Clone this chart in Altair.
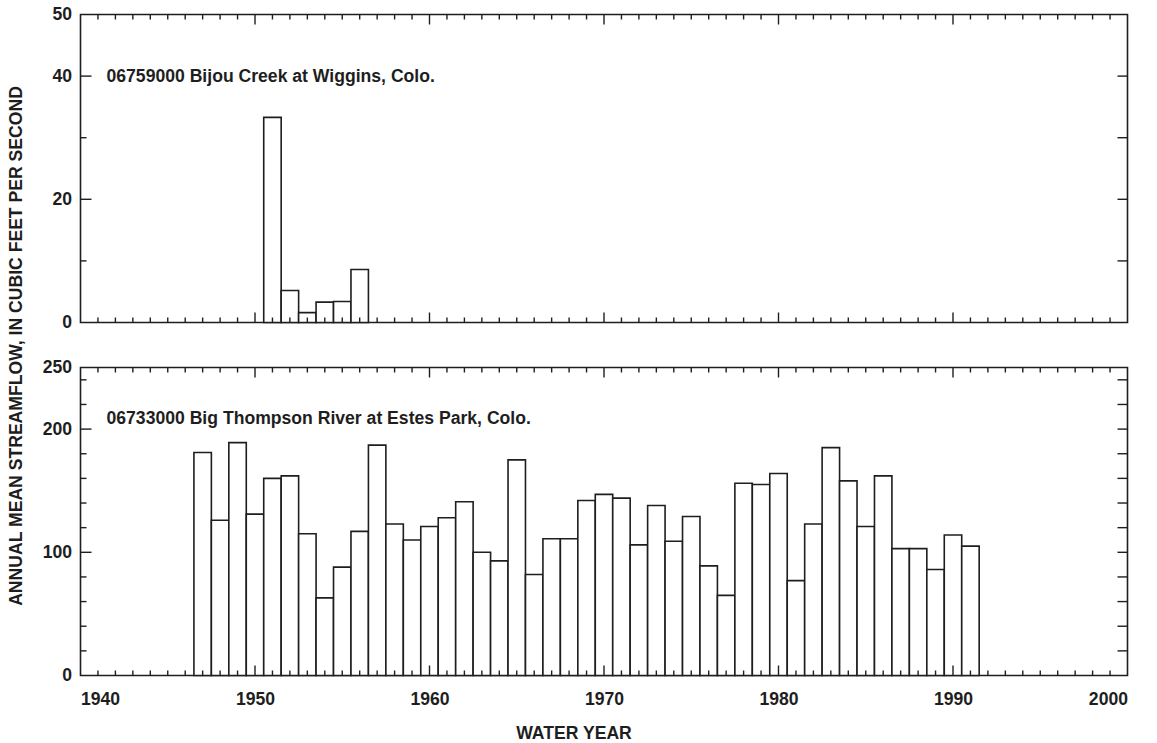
import altair as alt
import pandas as pd

# ---- data ----
bijou_years = [1951, 1952, 1953, 1954, 1955, 1956]
bijou_flow = [33.3, 5.2, 1.6, 3.3, 3.4, 8.6]

thompson_years = list(range(1947, 1992))
thompson_flow = [181, 126, 189, 131, 160, 162, 115, 63, 88, 117,
                 187, 123, 110, 121, 128, 141, 100, 93, 175, 82,
                 111, 111, 142, 147, 144, 106, 138, 109, 129, 89,
                 65, 156, 155, 164, 77, 123, 185, 158, 121, 162,
                 103, 103, 86, 114, 105]

x_labels = [1940, 1950, 1960, 1970, 1980, 1990, 2000]
x_minor = [y for y in range(1941, 2000) if y % 10 != 0]
x_major = [1950, 1960, 1970, 1980, 1990]

top_labels = [0, 20, 40, 50]
top_major = [20, 40]
top_minor = [10, 30]
top_right = [10, 20, 30, 40]

bot_labels = [0, 100, 200, 250]
bot_major = [100, 200]
bot_minor = [20, 40, 60, 80, 120, 140, 160, 180, 220, 240]
bot_right = [20, 40, 60, 80, 100, 120, 140, 160, 180, 200, 220, 240]

top_text = ["06759000 Bijou Creek at Wiggins, Colo."]
bot_text = ["06733000 Big Thompson River at Estes Park, Colo."]

W, H = 1047, 308
FONT = "Liberation Sans"
INK = "#1e1e1e"
FS = 17.6

xscale = alt.Scale(domain=[1940, 2000], nice=False, zero=False)


def panel(years, flows, ymax, labels, ymaj, ymin, yright, text, bottom):
    yscale = alt.Scale(domain=[0, ymax], nice=False, zero=True)
    df = pd.DataFrame({"year": years, "flow": flows})
    df["x0"] = df["year"] - 0.5
    df["x1"] = df["year"] + 0.5

    if bottom:
        xaxis = alt.Axis(values=x_labels, format="d", ticks=False, domain=False,
                         grid=False, labelFontSize=FS, labelFontWeight="bold",
                         labelColor=INK, labelPadding=15, labelFont=FONT,
                         title="WATER YEAR", titleFont=FONT, titleFontSize=FS,
                         titleFontWeight="bold", titleColor=INK,
                         titleX=493, titleY=58, titleBaseline="middle",
                         titleAlign="center", titleAnchor="start")
        yaxis = alt.Axis(values=labels, ticks=False, domain=False, grid=False,
                         labelFontSize=FS, labelFontWeight="bold", labelColor=INK,
                         labelPadding=9, labelFont=FONT, title=None)
    else:
        xaxis = alt.Axis(values=x_labels, ticks=False, domain=False, grid=False,
                         labels=False, title=None)
        yaxis = alt.Axis(values=labels, ticks=False, domain=False, grid=False,
                         labelFontSize=FS, labelFontWeight="bold", labelColor=INK,
                         labelPadding=9, labelFont=FONT,
                         title="ANNUAL MEAN STREAMFLOW, IN CUBIC FEET PER SECOND",
                         titleFont=FONT, titleFontSize=FS, titleFontWeight="bold",
                         titleColor=INK, titleX=-64, titleY=331, titleAngle=270,
                         titleBaseline="middle", titleAlign="center",
                         titleAnchor="start")

    bars = alt.Chart(df).mark_bar(fill="white", stroke=INK, strokeWidth=1.6).encode(
        x=alt.X("x0:Q", scale=xscale, axis=xaxis),
        x2="x1:Q",
        y=alt.Y("flow:Q", scale=yscale, axis=yaxis),
        y2=alt.datum(0),
    )

    def xt(vals, y0, y1):
        return alt.Chart(pd.DataFrame({"x0": vals})).mark_rule(
            color=INK, strokeWidth=1.4).encode(
            x=alt.X("x0:Q", scale=xscale, axis=xaxis),
            y=alt.value(y0), y2=alt.value(y1))

    def yt(vals, x0, x1):
        return alt.Chart(pd.DataFrame({"flow": vals})).mark_rule(
            color=INK, strokeWidth=1.4).encode(
            y=alt.Y("flow:Q", scale=yscale, axis=yaxis),
            x=alt.value(x0), x2=alt.value(x1))

    ticks = [
        xt(x_minor, H, H - 5), xt(x_major, H, H - 10),
        xt(x_minor, 0, 5), xt(x_major, 0, 10),
        yt(ymaj, 0, 11), yt(ymin, 0, 6),
        yt(yright, W, W - 10),
    ]

    label = alt.Chart(pd.DataFrame({"label": text})).mark_text(
        align="left", baseline="alphabetic", font=FONT, fontSize=FS,
        fontWeight="bold", color=INK).encode(
        text="label:N", x=alt.value(26), y=alt.value(67 if not bottom else 56))

    return alt.layer(bars, *ticks, label).properties(width=W, height=H)


top = panel(bijou_years, bijou_flow, 50, top_labels, top_major, top_minor,
            top_right, top_text, False)
bot = panel(thompson_years, thompson_flow, 250, bot_labels, bot_major, bot_minor,
            bot_right, bot_text, True)

chart = alt.vconcat(top, bot, spacing=45, bounds="flush").properties(
    padding={"left": 6.5, "top": 4.5, "right": 5, "bottom": 5},
    background="white",
).configure(font=FONT).configure_view(stroke=INK, strokeWidth=1.6)

chart.save("out.html", embed_options={"renderer": "svg", "actions": False})
